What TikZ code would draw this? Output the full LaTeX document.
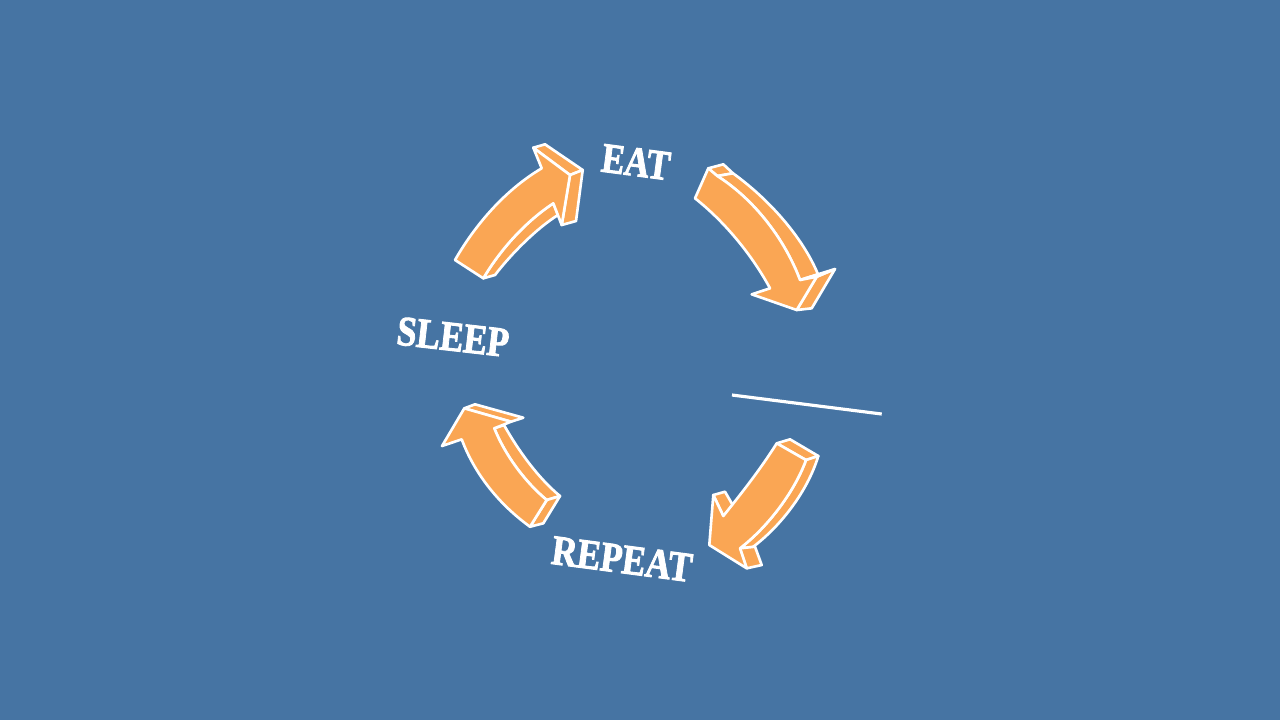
\documentclass[tikz,border=0pt]{standalone}
\usepackage{fontspec}
\setmainfont{Liberation Serif}
\newfontfamily\stencilish[FakeBold=2.2]{Liberation Serif Bold}
\definecolor{bgblue}{RGB}{70,116,163}
\definecolor{arrowor}{RGB}{250,166,84}
\tikzset{
  face/.style={fill=arrowor, draw=white, line width=0.75pt, line join=round},
  label/.style={text=white, font=\fontsize{12}{13}\selectfont\stencilish, inner sep=0pt},
  rule/.style={draw=white, line width=0.9pt}
}
\begin{document}
\begin{tikzpicture}[x=0.01cm, y=-0.01cm]
\useasboundingbox (0,0) rectangle (1280,720);
\fill[bgblue] (0,0) rectangle (1280,720);

% ---------- Arrow 1 (left-top, pointing up-right) ----------
\draw[face] (533.3,147.7) -- (545,144.3) -- (582.7,170) -- (570,175) -- cycle;
\draw[face] (570,175) -- (582.7,170) -- (576,221) -- (561.7,225) -- cycle;
\draw[face] (483.3,278.3) .. controls (500,250) and (525,222) .. (553.3,203.3)
   -- (558,215) .. controls (537,228) and (511,254) .. (495,275) -- cycle;
\draw[face] (455,260) .. controls (475,225) and (505,190) .. (541.7,168.3)
   -- (533.3,147.7) -- (570,175) -- (561.7,225) -- (553.3,203.3)
   .. controls (525,222) and (500,250) .. (483.3,278.3) -- cycle;

% ---------- Arrow 2 (right-top, pointing down-right) ----------
\draw[face] (708.3,168.3) -- (723.3,164.3) -- (733,173.3) -- (717.3,176) -- cycle;
\draw[face] (717.3,176) .. controls (755,200) and (785,240) .. (800,280)
   -- (818,274.3) .. controls (803,238) and (770,200) .. (733,173.3) -- cycle;
\draw[face] (816.7,276.7) -- (835,269) -- (811.7,308.3) -- (796.7,310) -- cycle;
\draw[face] (800,280) -- (818,274.3) -- (835,269) -- (816.7,276.7) -- cycle;
\draw[face] (695,198.3) -- (708.3,168.3) -- (717.3,176)
   .. controls (755,200) and (785,240) .. (800,280)
   -- (816.7,276.7) -- (796.7,310) -- (751.7,294.3) -- (770,288.3)
   .. controls (752,255) and (725,222) .. (695,198.3) -- cycle;

% ---------- Arrow 3 (right-bottom, pointing down-left) ----------
\draw[face] (776.7,443.3) -- (790,439.3) -- (818.3,456) -- (806,460) -- cycle;
\draw[face] (806,460) .. controls (795,490) and (770,525) .. (740,548.3)
   -- (753,546.9) .. controls (782,525) and (808,490) .. (818.3,456) -- cycle;
\draw[face] (740,548.3) -- (755,546.7) -- (761.7,565) -- (746.7,568.3) -- cycle;
\draw[face] (713.3,495) -- (725,491.7) -- (733.3,506) -- (723.3,516) -- cycle;
\draw[face] (776.7,443.3) -- (806,460)
   .. controls (795,490) and (770,525) .. (740,548.3)
   -- (746.7,568.3) -- (709.3,545) -- (713.3,495) -- (723.3,516)
   .. controls (740,495) and (760,470) .. (776.7,443.3) -- cycle;

% ---------- Arrow 4 (left-bottom, pointing up-left) ----------
\draw[face] (464.3,408.3) -- (475,404.3) -- (523.3,417.7) -- (511,421.7) -- cycle;
\draw[face] (494.3,428.3) .. controls (505,455) and (525,482) .. (546.7,500)
   -- (560,496) .. controls (538,478) and (518,450) .. (504,425) -- cycle;
\draw[face] (530,526.7) -- (546.7,500) -- (560,496) -- (543.3,523.3) -- cycle;
\draw[face] (442,446) -- (464.3,408.3) -- (511,421.7) -- (494.3,428.3)
   .. controls (505,455) and (525,482) .. (546.7,500)
   -- (530,526.7) .. controls (500,505) and (475,475) .. (461.7,439.3) -- cycle;

% ---------- Labels ----------
\node[label, rotate=-7.5] (eat) at (636,162) {\scalebox{0.82}[1]{EAT}};
\node[label, rotate=-6.5] (sleep) at (453,337) {\scalebox{0.84}[1]{SLEEP}};
\node[label, rotate=-7.5] (repeat) at (622,559) {\scalebox{0.84}[1]{REPEAT}};

% ---------- stray line ----------
\coordinate (la) at (732,395);
\coordinate (lb) at (881.7,414);
\draw[rule] (la) -- (lb);
\end{tikzpicture}
\end{document}
